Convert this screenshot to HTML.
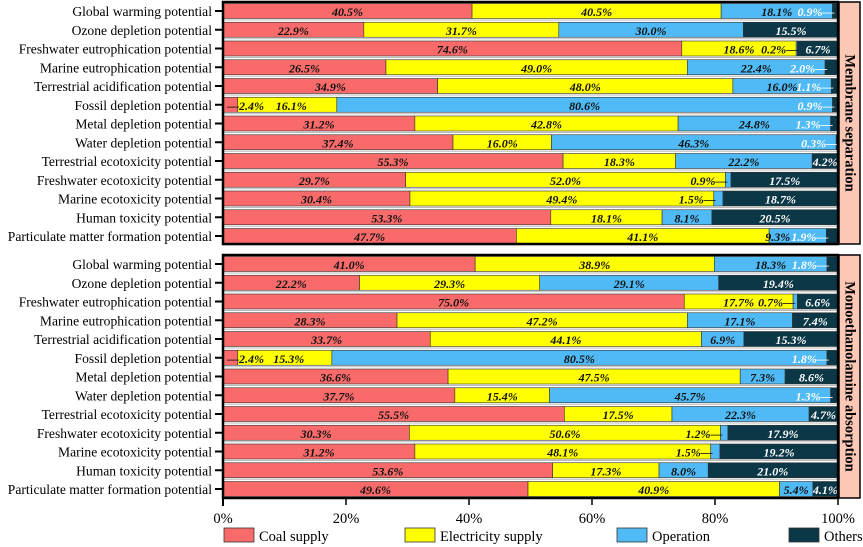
<!DOCTYPE html>
<html><head><meta charset="utf-8"><style>
html,body{margin:0;padding:0;background:#fff;}
svg{display:block;font-family:"Liberation Serif",serif;}
</style></head><body>
<svg id="c" width="863" height="547" xmlns="http://www.w3.org/2000/svg"></svg>
<script>
const categories=["Global warming potential","Ozone depletion potential","Freshwater eutrophication potential","Marine eutrophication potential","Terrestrial acidification potential","Fossil depletion potential","Metal depletion potential","Water depletion potential","Terrestrial ecotoxicity potential","Freshwater ecotoxicity potential","Marine ecotoxicity potential","Human toxicity potential","Particulate matter formation potential"];
const seriesNames=["Coal supply","Electricity supply","Operation","Others"];
const membraneCoal=[40.5,22.9,74.6,26.5,34.9,2.4,31.2,37.4,55.3,29.7,30.4,53.3,47.7];
const membraneElec=[40.5,31.7,18.6,49.0,48.0,16.1,42.8,16.0,18.3,52.0,49.4,18.1,41.1];
const membraneOper=[18.1,30.0,0.2,22.4,16.0,80.6,24.8,46.3,22.2,0.9,1.5,8.1,9.3];
const membraneOther=[0.9,15.5,6.7,2.0,1.1,0.9,1.3,0.3,4.2,17.5,18.7,20.5,1.9];
const meaCoal=[41.0,22.2,75.0,28.3,33.7,2.4,36.6,37.7,55.5,30.3,31.2,53.6,49.6];
const meaElec=[38.9,29.3,17.7,47.2,44.1,15.3,47.5,15.4,17.5,50.6,48.1,17.3,40.9];
const meaOper=[18.3,29.1,0.7,17.1,6.9,80.5,7.3,45.7,22.3,1.2,1.5,8.0,5.4];
const meaOther=[1.8,19.4,6.6,7.4,15.3,1.8,8.6,1.3,4.7,17.9,19.2,21.0,4.1];
const xTicks=[0,20,40,60,80,100];
const panelTitles=["Membrane separation","Monoethanolamine absorption"];

const colors=["#f96b6b","#ffff00","#4fbaf5","#0b3747"];
const NS="http://www.w3.org/2000/svg";
const svg=document.getElementById('c');
const X0=223,X1=838;
const xs=v=>X0+(X1-X0)*v/100;
function el(t,a,p){const e=document.createElementNS(NS,t);for(const k in a)e.setAttribute(k,a[k]);(p||svg).appendChild(e);return e;}

const panels=[
 {top:2,bot:244,data:[membraneCoal,membraneElec,membraneOper,membraneOther],title:panelTitles[0]},
 {top:255,bot:498,data:[meaCoal,meaElec,meaOper,meaOther],title:panelTitles[1]}
];
const step=18.75,bh=15;
panels.forEach((p,pi)=>{
 const g=el('g',{});
 
 
 const firstY=p.top+9;
 categories.forEach((c,i)=>{
  const cy=firstY+i*step;
  const lab=el('text',{x:212,y:cy+5,'text-anchor':'end','font-size':13.6,fill:'#000'},g);
  lab.textContent=c;
  
  
  el('line',{x1:215,x2:223,y1:cy,y2:cy,stroke:'#000','stroke-width':2},g);
  el('line',{x1:X0,x2:X1,y1:cy+bh/2+1.5,y2:cy+bh/2+1.5,stroke:'#bbb','stroke-width':1},g);
  let acc=0;
  for(let s=0;s<4;s++){
   const v=p.data[s][i];
   const x=xs(acc),w=xs(acc+v)-x;
   const r=el('rect',{x:x,y:cy-bh/2,width:Math.max(w,0),height:bh,fill:colors[s],stroke:'#333','stroke-width':0.6},g);
   
   
   acc+=v;
  }
  acc=0;
  for(let s=0;s<4;s++){
   const v=p.data[s][i];
   const x=xs(acc),w=xs(acc+v)-x;
   const t=el('text',{y:cy+5,'font-size':12,'font-style':'italic','font-weight':'bold'},g);
   if(v<2.5){
    if(s===0){t.setAttribute('x',xs(acc)+4);t.setAttribute('text-anchor','start');t.textContent='\u2014'+v.toFixed(1)+'%';t.setAttribute('fill','#111');}
    else{t.setAttribute('x',x+2);t.setAttribute('text-anchor','end');t.textContent=v.toFixed(1)+'%\u2014';t.setAttribute('fill',s===3?'#fff':'#111');}
   }else{
    let cx=x+w/2;
    if(s===2 && p.data[3][i]<2.5 && w<70) cx=x+w/2-20;
    if(s===1 && p.data[0][i]<2.5) cx=x+w/2+4;
    t.setAttribute('x',cx);t.setAttribute('text-anchor','middle');t.textContent=v.toFixed(1)+'%';
    t.setAttribute('fill',s===3?'#fff':'#111');
   }
   
   
   acc+=v;
  }
 });
 el('rect',{x:X0,y:p.top,width:X1-X0,height:p.bot-p.top,fill:'none',stroke:'#000','stroke-width':2.5},g);
 const st=el('rect',{x:X1+1,y:p.top,width:21,height:p.bot-p.top,fill:'#fcc8b6',stroke:'#000','stroke-width':1.5},g);
 
 
 const cx=X1+11.5,cy2=(p.top+p.bot)/2;
 const tt=el('text',{x:cx,y:cy2,'text-anchor':'middle','dominant-baseline':'central','font-size':14.5,'font-weight':'bold',transform:`rotate(90 ${cx} ${cy2})`},g);
 tt.textContent=p.title;
 
 
});
// x axis
el('line',{x1:X0,x2:X0,y1:498,y2:506,stroke:'#000','stroke-width':2});
xTicks.forEach(v=>{
 el('line',{x1:xs(v),x2:xs(v),y1:498,y2:505,stroke:'#000','stroke-width':1.5});
 const t=el('text',{x:xs(v),y:523,'text-anchor':'middle','font-size':14.5});
 t.textContent=v+'%';
 
 
});
// legend
const lx=[224,405,617,789];
seriesNames.forEach((n,i)=>{
 const g=el('g',{});
 
 
 el('rect',{x:lx[i],y:528,width:30,height:14,fill:colors[i],stroke:'#333','stroke-width':0.8},g);
 const t=el('text',{x:lx[i]+35,y:541,'font-size':14.5},g);
 t.textContent=n;
});
</script>
</body></html>
